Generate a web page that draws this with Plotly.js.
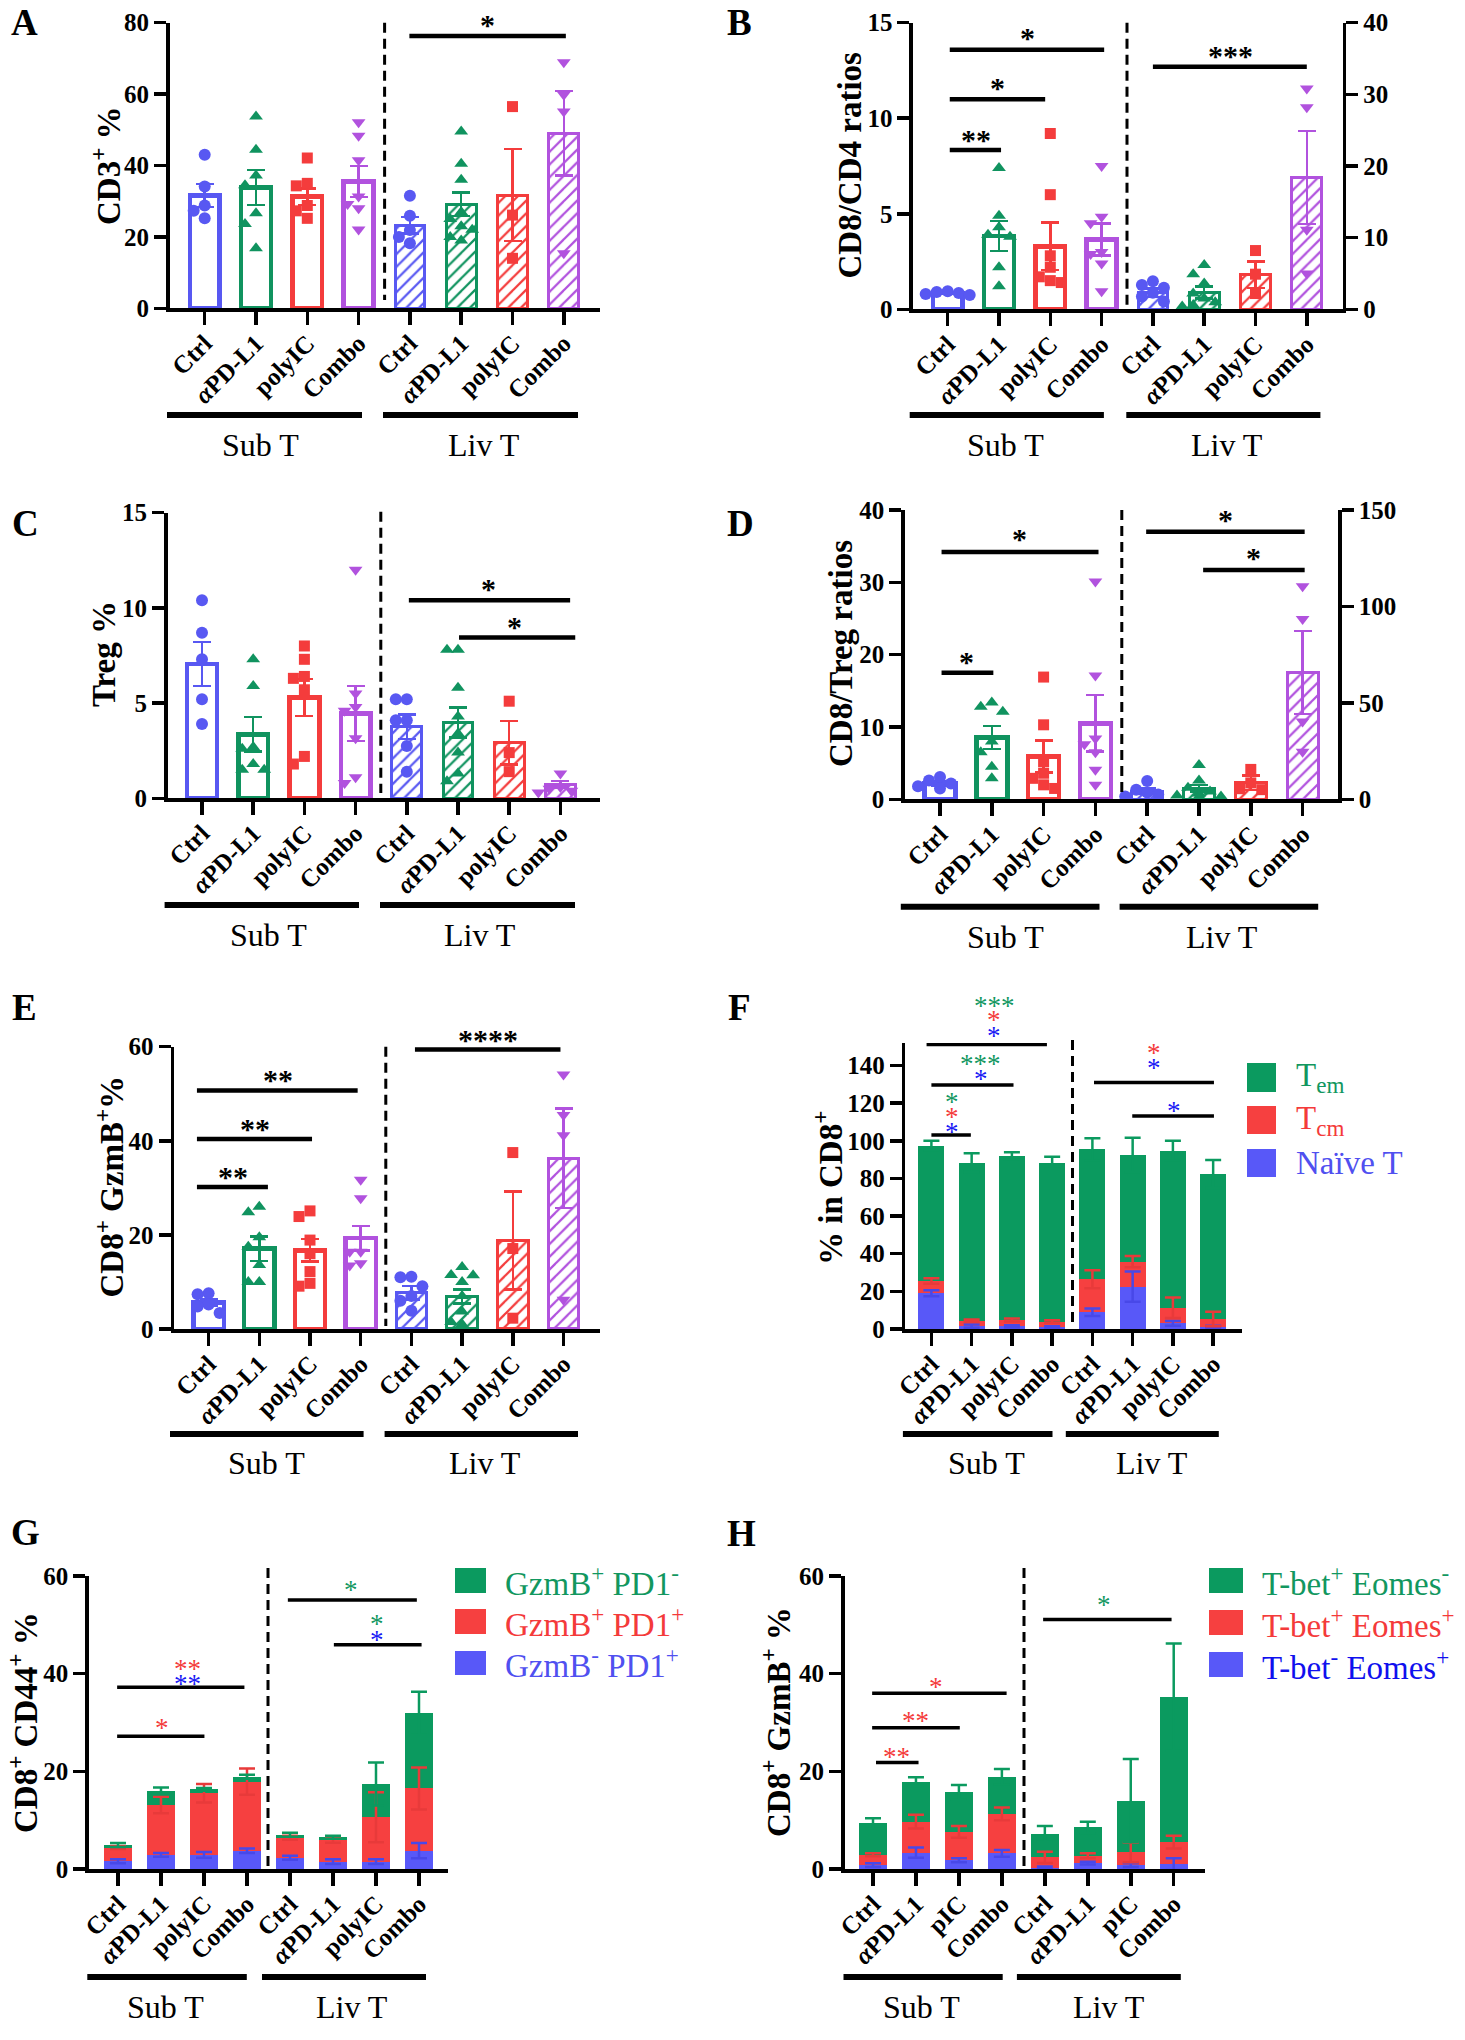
<!DOCTYPE html>
<html>
<head>
<meta charset="utf-8">
<script src="https://cdn.plot.ly/plotly-3.0.1.min.js"></script>
<style>
  body { margin: 0; background: white; }
  #grafico { width: 1465px; height: 2040px; }
</style>
</head>
<body>
<div id="grafico"></div>
<script>
const W = 1465, H = 2040;
const FUENTE = "'Liberation Serif', 'Times New Roman', serif";

// Categorías (Sub T: 0-3, Liv T: 4-7)
const grupos = ['Ctrl', '<i>α</i>PD-L1', 'polyIC', 'Combo', 'Ctrl', '<i>α</i>PD-L1', 'polyIC', 'Combo'];
const gruposH = ['Ctrl', '<i>α</i>PD-L1', 'pIC', 'Combo', 'Ctrl', '<i>α</i>PD-L1', 'pIC', 'Combo'];

// A: CD3+ %
const cd3Media = [31.6, 33.8, 31.3, 35.5, 23.3, 29.1, 31.7, 49.0];
const cd3Sem = [3.2, 4.9, 2.3, 4.3, 2.3, 3.3, 12.9, 11.8];
const cd3Puntos = [
    [43.0, 34.1, 28.8, 27.3, 25.2],
    [53.7, 44.4, 37.2, 34.5, 26.6, 23.6, 16.8],
    [42.1, 35.0, 34.3, 28.8, 27.3, 25.2],
    [52.1, 48.3, 41.5, 31.3, 29.2, 28.0, 22.1],
    [31.5, 25.9, 21.9, 20.0, 18.2],
    [49.5, 40.5, 36.0, 27.0, 25.0, 23.0, 22.0, 20.0, 19.0],
    [56.5, 26.1, 14.0],
    [68.9, 59.8, 55.1, 15.4]
];

// B: CD8/CD4 (Liv T en el eje derecho)
const cd8cd4Media = [0.84, 3.84, 3.3, 3.66, 2.33, 2.33, 4.8, 18.4];
const cd8cd4Sem = [0.05, 0.78, 1.24, 0.84, 0.6, 0.83, 1.85, 6.5];
const cd8cd4Puntos = [
    [0.95, 0.9, 0.85, 0.8, 0.75],
    [7.4, 4.9, 4.3, 3.9, 3.8, 2.2, 1.2],
    [9.2, 6.0, 2.8, 2.2, 1.7, 1.5, 1.4],
    [7.5, 4.85, 4.5, 3.0, 2.9, 2.4, 0.95],
    [3.9, 3.4, 3.0, 2.3, 1.8, 1.1],
    [6.2, 4.9, 3.6, 2.2, 1.5, 1.0, 0.6, 0.4],
    [8.2, 4.9, 2.2],
    [30.8, 28.2, 11.1, 5.0]
];

// C: Treg %
const tregMedia = [7.05, 3.36, 5.3, 4.46, 3.76, 3.99, 2.92, 0.73];
const tregSem = [1.15, 0.9, 0.97, 1.45, 0.64, 0.79, 1.14, 0.17];
const tregPuntos = [
    [10.4, 8.7, 7.3, 5.2, 3.9],
    [7.3, 5.9, 2.7, 2.6, 1.8, 1.5, 1.5],
    [8.0, 7.3, 6.4, 6.3, 5.7, 2.2, 1.8],
    [12.0, 5.5, 4.8, 4.6, 3.15, 1.1, 0.8],
    [5.2, 5.2, 4.1, 4.1, 2.75, 1.4],
    [7.8, 7.8, 5.8, 4.3, 3.4, 2.4, 1.3, 0.9],
    [5.1, 2.4, 1.4],
    [1.3, 0.6, 0.5, 0.4, 0.3]
];

// D: CD8/Treg (Liv T en el eje derecho)
const cd8tregMedia = [2.2, 8.57, 5.9, 10.5, 4.3, 5.7, 8.6, 65.7];
const cd8tregSem = [0.3, 1.6, 2.2, 3.9, 1.3, 1.7, 3.7, 21.5];
const cd8tregPuntos = [
    [3.1, 2.6, 2.2, 1.8, 1.5],
    [13.4, 12.8, 12.1, 8.0, 6.5, 4.5, 2.9],
    [16.9, 10.3, 5.2, 3.6, 2.9, 2.0, 1.5],
    [30.1, 17.1, 8.4, 7.6, 6.5, 4.1, 2.0],
    [9.5, 5.0, 3.5, 2.5, 1.5],
    [17.8, 9.7, 6.0, 4.0, 3.0, 2.0, 1.5, 1.5],
    [15.5, 8.5, 5.5, 5.0],
    [110.5, 93.5, 40.3, 24.7]
];

// E: CD8+ GzmB+ %
const gzmbMedia = [5.6, 17.1, 16.7, 19.3, 7.7, 6.9, 18.8, 36.3];
const gzmbSem = [0.7, 2.6, 2.4, 2.6, 1.4, 1.5, 10.4, 10.6];
const gzmbPuntos = [
    [7.6, 7.4, 5.2, 4.8, 3.4],
    [26.0, 24.8, 19.5, 17.5, 13.6, 10.0, 10.0],
    [25.1, 23.9, 18.9, 16.0, 12.2, 9.7, 9.1],
    [31.7, 27.8, 16.4, 16.4, 14.0, 13.5],
    [11.1, 11.0, 9.1, 7.0, 6.0, 3.9],
    [13.2, 11.5, 11.4, 10.0, 7.0, 3.7, 1.5, 1.0],
    [37.5, 17.1, 2.3],
    [54.1, 45.5, 41.2, 6.2]
];

// F: % en CD8+ (apilado)
const fNaive = [19.0, 1.5, 1.4, 0.8, 8.9, 22.5, 3.0, 1.2];
const fTcm = [6.5, 2.9, 3.4, 3.1, 17.5, 13.3, 8.3, 4.1];
const fTem = [72.0, 84.0, 87.2, 84.5, 69.1, 56.7, 83.5, 77.1];
const fNaiveSem = [1.6, 0.9, 0.6, 0.6, 2.0, 8.0, 1.3, 0.5];
const fTcmSem = [1.5, 0.7, 0.8, 0.7, 4.8, 3.0, 5.5, 3.9];
const fTemSem = [2.5, 5.0, 1.9, 3.2, 5.9, 9.2, 5.3, 7.4];

// G: CD8+ CD44+ % (apilado)
const gNeg = [1.6, 2.9, 2.9, 3.75, 2.3, 1.5, 1.5, 3.75];
const gDoble = [2.8, 10.2, 12.6, 14.15, 4.1, 4.4, 9.1, 12.75];
const gPos = [0.5, 2.9, 0.8, 1.0, 0.6, 0.6, 6.8, 15.4];
const gNegSem = [0.4, 0.4, 0.6, 0.45, 0.4, 0.5, 0.5, 1.55];
const gDobleSem = [0.3, 1.7, 1.9, 2.7, 0.4, 0.5, 5.1, 4.3];
const gPosSem = [0.4, 0.7, 0.3, 0.4, 0.4, 0.3, 4.4, 4.4];

// H: CD8+ GzmB+ % (apilado)
const hEomes = [0.8, 3.35, 1.8, 3.2, 0.3, 1.2, 0.8, 1.0];
const hDoble = [2.1, 6.35, 5.8, 8.1, 2.1, 1.5, 2.6, 4.5];
const hTbet = [6.45, 8.2, 8.1, 7.6, 4.8, 5.8, 10.6, 29.7];
const hEomesSem = [0.4, 1.05, 0.4, 0.7, 0.2, 0.3, 0.4, 1.2];
const hDobleSem = [0.3, 1.4, 1.2, 1.3, 1.15, 0.5, 2.0, 1.3];
const hTbetSem = [1.05, 0.9, 1.5, 1.6, 1.6, 1.2, 8.5, 11.0];

// Colores y símbolos
const colores = ['#5858f2', '#10935f', '#f43c3c', '#b152de'];
const simbolos = ['circle', 'triangle-up', 'square', 'triangle-down'];
const verde = '#0b9a5f', rojo = '#f64040', azul = '#5858f8';
const verdeTxt = '#12975f', rojoTxt = '#f43a3a', azulTxt = '#1818f5';

const data = [];
const layout = {
    width: W, height: H,
    margin: {l: 0, r: 0, t: 0, b: 0},
    paper_bgcolor: 'white', plot_bgcolor: 'rgba(0,0,0,0)',
    showlegend: false, barmode: 'stack',
    font: {family: FUENTE, color: 'black'},
    shapes: [], annotations: []
};

// Geometría de cada panel en píxeles de la página
const paneles = {
    A: {n: 1, yl: 169.5, xr: 600, yb: 308.3, yt: 22.7, c0: 204.7, sp: 51.3, ancho: 0.58, rango: [0, 80], dt: 20},
    B: {n: 2, yl: 912.9, xr: 1342.8, yb: 309.3, yt: 22.7, c0: 947.7, sp: 51.3, ancho: 0.58, rango: [0, 15], dt: 5, der: 9, rangoDer: [0, 40], dtDer: 10},
    C: {n: 3, yl: 167.6, xr: 600, yb: 798.3, yt: 512.7, c0: 202, sp: 51.2, ancho: 0.58, rango: [0, 15], dt: 5},
    D: {n: 4, yl: 904.8, xr: 1338.3, yb: 799.3, yt: 510, c0: 940, sp: 51.8, ancho: 0.6, rango: [0, 40], dt: 10, der: 10, rangoDer: [0, 150], dtDer: 50},
    E: {n: 5, yl: 174.1, xr: 600, yb: 1329, yt: 1046.7, c0: 208.6, sp: 50.7, ancho: 0.6, rango: [0, 60], dt: 20},
    F: {n: 6, yl: 905.3, xr: 1241.6, yb: 1329, yt: 1043, c0: 931.4, sp: 40.25, ancho: 0.65, rango: [0, 152], dt: 20},
    G: {n: 7, yl: 88.7, xr: 448.3, yb: 1869, yt: 1576, c0: 118, sp: 43, ancho: 0.66, rango: [0, 60], dt: 20},
    H: {n: 8, yl: 844.5, xr: 1204.6, yb: 1869, yt: 1576, c0: 873, sp: 42.96, ancho: 0.66, rango: [0, 60], dt: 20}
};

function ejeBase() {
    return {
        showline: true, linecolor: 'black', linewidth: 3.5,
        ticks: 'outside', tickcolor: 'black', tickwidth: 3.5, ticklen: 12,
        showgrid: false, zeroline: false, fixedrange: true,
        tickprefix: '<b>', ticksuffix: '</b>',
        tickfont: {family: FUENTE, size: 25, color: 'black', weight: 700}
    };
}

function montarEjes(p, etiquetas) {
    const sx = p.n === 1 ? '' : String(p.n);
    p.xref = 'x' + sx;
    p.yref = 'y' + sx;
    layout['xaxis' + sx] = Object.assign(ejeBase(), {
        domain: [p.yl / W, p.xr / W],
        range: [(p.yl - p.c0) / p.sp, (p.xr - p.c0) / p.sp],
        anchor: p.yref,
        tickvals: [0, 1, 2, 3, 4, 5, 6, 7], ticktext: etiquetas.map(t => '<b>' + t + '</b>'),
        tickprefix: '', ticksuffix: '',
        tickangle: -45, ticklen: 13, ticklabelstandoff: -6,
        tickfont: {family: FUENTE, size: 25, color: 'black', weight: 700}
    });
    layout['yaxis' + sx] = Object.assign(ejeBase(), {
        domain: [1 - p.yb / H, 1 - p.yt / H],
        range: p.rango, tick0: 0, dtick: p.dt, anchor: p.xref
    });
    if (p.n === 6) layout['yaxis' + sx].tickvals = [0, 20, 40, 60, 80, 100, 120, 140];
    if (p.der) {
        p.yrefDer = 'y' + p.der;
        layout['yaxis' + p.der] = Object.assign(ejeBase(), {
            overlaying: p.yref, side: 'right', anchor: p.xref,
            range: p.rangoDer, tick0: 0, dtick: p.dtDer
        });
    }
}

// Reparte los puntos que se solapan a los lados (sin azar)
function dispersar(vals, pxPorUnidad, paso) {
    const orden = vals.map((v, i) => i).sort((a, b) => vals[b] - vals[a]);
    const off = vals.map(() => 0);
    const usados = [];
    const huecos = [0, -1, 1, -2, 2];
    orden.forEach(i => {
        let s = huecos.find(h => usados.every(u => u.s !== h || Math.abs(u.v - vals[i]) * pxPorUnidad >= 11));
        if (s === undefined) s = 0;
        usados.push({s, v: vals[i]});
        off[i] = s * paso;
    });
    return off;
}

function panelPuntos(p, media, sem, puntos) {
    for (let i = 0; i < 8; i++) {
        const liv = i >= 4;
        const usaDer = liv && p.yrefDer;
        const yref = usaDer ? p.yrefDer : p.yref;
        const rango = usaDer ? p.rangoDer : p.rango;
        const color = colores[i % 4];
        const barra = {
            type: 'bar', x: [i], y: [media[i]], xaxis: p.xref, yaxis: yref, width: p.ancho,
            marker: {color: liv ? color : 'white', line: {color: color, width: liv ? 3 : 4.5}},
            error_y: {type: 'data', array: [sem[i]], color: color, thickness: 2.5, width: 9},
            hoverinfo: 'skip'
        };
        if (liv) barra.marker.pattern = {shape: '/', fgcolor: color, bgcolor: 'white', size: 9, solidity: 0.25};
        data.push(barra);
        const pxU = (p.yb - p.yt) / (rango[1] - rango[0]);
        const off = dispersar(puntos[i], pxU, 11 / p.sp);
        data.push({
            type: 'scatter', mode: 'markers', xaxis: p.xref, yaxis: yref,
            x: puntos[i].map((v, k) => i + off[k]), y: puntos[i],
            marker: {symbol: simbolos[i % 4], color: color, size: i % 4 === 2 ? 11 : 12},
            cliponaxis: false, hoverinfo: 'skip'
        });
    }
}

function panelApilado(p, segmentos, errores, cols, colsErr) {
    const idx = [0, 1, 2, 3, 4, 5, 6, 7];
    segmentos.forEach((s, j) => {
        data.push({type: 'bar', x: idx, y: s, xaxis: p.xref, yaxis: p.yref, width: p.ancho,
            marker: {color: cols[j], line: {width: 0}}, hoverinfo: 'skip'});
    });
    let acum = idx.map(() => 0);
    segmentos.forEach((s, j) => {
        acum = acum.map((a, k) => a + s[k]);
        data.push({type: 'scatter', mode: 'markers', x: idx, y: acum.slice(), xaxis: p.xref, yaxis: p.yref,
            marker: {size: 2, opacity: 0},
            error_y: {type: 'data', array: errores[j], color: colsErr[j], thickness: 2.5, width: 8},
            cliponaxis: false, hoverinfo: 'skip'});
    });
}

// Barras de significación: línea + asteriscos (los asteriscos se anclan a la línea
// y se suben con yshift para que no se oculten fuera del rango del eje)
function sig(p, yref, x0, x1, y, grosor, estrellas) {
    const pxU = (p.yb - p.yt) / (p.rango[1] - p.rango[0]);
    layout.shapes.push({type: 'line', xref: p.xref, yref: yref, x0: x0, x1: x1, y0: y, y1: y,
        line: {color: 'black', width: grosor}});
    estrellas.forEach(e => layout.annotations.push({
        xref: p.xref, yref: yref, x: e.x, y: y, text: e.t, showarrow: false,
        xanchor: 'center', yanchor: 'middle', yshift: (e.y - y) * pxU - 0.19 * e.s,
        font: {family: FUENTE, size: e.s, color: e.c || 'black', weight: e.b === false ? 400 : 700}
    }));
}

function texto(x, y, t, size, opts) {
    layout.annotations.push(Object.assign({
        xref: 'paper', yref: 'paper', x: x / W, y: 1 - y / H, text: t, showarrow: false,
        xanchor: 'center', yanchor: 'middle',
        font: {family: FUENTE, size: size, color: 'black', weight: 700}
    }, opts || {}));
}

function lineaPapel(x0, y0, x1, y1, grosor, dash) {
    layout.shapes.push({type: 'line', xref: 'paper', yref: 'paper',
        x0: x0 / W, x1: x1 / W, y0: 1 - y0 / H, y1: 1 - y1 / H,
        line: {color: 'black', width: grosor, dash: dash || 'solid'}});
}

function grupoInferior(yLinea, sub, liv, yTexto, xSub, xLiv) {
    lineaPapel(sub[0], yLinea, sub[1], yLinea, 6);
    lineaPapel(liv[0], yLinea, liv[1], yLinea, 6);
    const f = {family: FUENTE, size: 32, color: 'black', weight: 400};
    texto(xSub, yTexto, 'Sub T', 32, {font: f});
    texto(xLiv, yTexto, 'Liv T', 32, {font: f});
}

function cuadroLeyenda(x0, y0, x1, y1, color, t, colorTxt, xTxt) {
    layout.shapes.push({type: 'rect', xref: 'paper', yref: 'paper', x0: x0 / W, x1: x1 / W,
        y0: 1 - y0 / H, y1: 1 - y1 / H, fillcolor: color, line: {width: 0}});
    texto(xTxt, (y0 + y1) / 2, t, 33, {xanchor: 'left',
        font: {family: FUENTE, size: 33, color: colorTxt, weight: 400}});
}

// ---- Panel A ----
const pA = paneles.A;
montarEjes(pA, grupos);
panelPuntos(pA, cd3Media, cd3Sem, cd3Puntos);
sig(pA, pA.yref, 3.99, 7.04, 76.3, 4.5, [{x: 5.52, y: 81.2, t: '*', s: 30}]);

// ---- Panel B ----
const pB = paneles.B;
montarEjes(pB, grupos);
panelPuntos(pB, cd8cd4Media, cd8cd4Sem, cd8cd4Puntos);
sig(pB, pB.yref, 0.04, 1.04, 8.34, 4.5, [{x: 0.55, y: 9.2, t: '**', s: 30}]);
sig(pB, pB.yref, 0.04, 1.9, 11.0, 4.5, [{x: 0.97, y: 11.9, t: '*', s: 30}]);
sig(pB, pB.yref, 0.04, 3.05, 13.58, 4.5, [{x: 1.55, y: 14.5, t: '*', s: 30}]);
sig(pB, pB.yref, 4.0, 7.0, 12.7, 4.5, [{x: 5.51, y: 13.6, t: '***', s: 30}]);

// ---- Panel C ----
const pC = paneles.C;
montarEjes(pC, grupos);
panelPuntos(pC, tregMedia, tregSem, tregPuntos);
sig(pC, pC.yref, 4.04, 7.19, 10.4, 4.5, [{x: 5.6, y: 11.3, t: '*', s: 30}]);
sig(pC, pC.yref, 5.02, 7.29, 8.44, 4.5, [{x: 6.1, y: 9.3, t: '*', s: 30}]);

// ---- Panel D ----
const pD = paneles.D;
montarEjes(pD, grupos);
panelPuntos(pD, cd8tregMedia, cd8tregSem, cd8tregPuntos);
sig(pD, pD.yref, 0.03, 1.03, 17.5, 4.5, [{x: 0.51, y: 19.9, t: '*', s: 30}]);
sig(pD, pD.yref, 0.03, 3.06, 34.2, 4.5, [{x: 1.54, y: 36.8, t: '*', s: 30}]);
sig(pD, pD.yref, 3.98, 7.04, 37.0, 4.5, [{x: 5.52, y: 39.5, t: '*', s: 30}]);
sig(pD, pD.yref, 5.08, 7.04, 31.7, 4.5, [{x: 6.05, y: 34.2, t: '*', s: 30}]);

// ---- Panel E ----
const pE = paneles.E;
montarEjes(pE, grupos);
panelPuntos(pE, gzmbMedia, gzmbSem, gzmbPuntos);
sig(pE, pE.yref, -0.23, 1.17, 30.2, 4.5, [{x: 0.49, y: 33.6, t: '**', s: 30}]);
sig(pE, pE.yref, -0.23, 2.04, 40.4, 4.5, [{x: 0.91, y: 43.9, t: '**', s: 30}]);
sig(pE, pE.yref, -0.23, 2.94, 50.7, 4.5, [{x: 1.36, y: 54.3, t: '**', s: 30}]);
sig(pE, pE.yref, 4.07, 6.94, 59.4, 4.5, [{x: 5.51, y: 62.7, t: '****', s: 30}]);

// ---- Panel F ----
const pF = paneles.F;
montarEjes(pF, grupos);
panelApilado(pF, [fNaive, fTcm, fTem], [fNaiveSem, fTcmSem, fTemSem], [azul, rojo, verde], ['#4848e8', '#e83a3a', verde]);
sig(pF, pF.yref, 0, 0.98, 103.1, 3.5, [
    {x: 0.51, y: 123.5, t: '*', s: 27, c: verdeTxt, b: false},
    {x: 0.51, y: 115.5, t: '*', s: 27, c: rojoTxt, b: false},
    {x: 0.51, y: 107.6, t: '*', s: 27, c: azulTxt, b: false}]);
sig(pF, pF.yref, 0, 2.04, 129.7, 3.5, [
    {x: 1.22, y: 143.4, t: '***', s: 27, c: verdeTxt, b: false},
    {x: 1.22, y: 135.4, t: '*', s: 27, c: azulTxt, b: false}]);
sig(pF, pF.yref, -0.12, 2.87, 151.2, 3.5, [
    {x: 1.56, y: 174.5, t: '***', s: 27, c: verdeTxt, b: false},
    {x: 1.56, y: 167.0, t: '*', s: 27, c: rojoTxt, b: false},
    {x: 1.56, y: 158.6, t: '*', s: 27, c: azulTxt, b: false}]);
sig(pF, pF.yref, 4.04, 7.02, 131.0, 3.5, [
    {x: 5.53, y: 149.2, t: '*', s: 27, c: rojoTxt, b: false},
    {x: 5.53, y: 141.2, t: '*', s: 27, c: azulTxt, b: false}]);
sig(pF, pF.yref, 4.99, 7.02, 113.2, 3.5, [
    {x: 6.02, y: 118.5, t: '*', s: 27, c: azulTxt, b: false}]);
cuadroLeyenda(1247, 1063, 1276, 1092, verde, 'T<sub>em</sub>', verdeTxt, 1294);
cuadroLeyenda(1247, 1106, 1276, 1134, rojo, 'T<sub>cm</sub>', rojoTxt, 1294);
cuadroLeyenda(1247, 1149, 1276, 1177, azul, 'Naïve T', '#5050f0', 1294);

// ---- Panel G ----
const pG = paneles.G;
montarEjes(pG, grupos);
panelApilado(pG, [gNeg, gDoble, gPos], [gNegSem, gDobleSem, gPosSem], [azul, rojo, verde], ['#4848e8', '#e83a3a', verde]);
sig(pG, pG.yref, -0.02, 2.01, 27.2, 3.5, [{x: 1.02, y: 30.0, t: '*', s: 27, c: rojoTxt, b: false}]);
sig(pG, pG.yref, -0.02, 2.94, 37.2, 3.5, [
    {x: 1.61, y: 42.1, t: '**', s: 27, c: rojoTxt, b: false},
    {x: 1.61, y: 38.9, t: '**', s: 27, c: azulTxt, b: false}]);
sig(pG, pG.yref, 3.95, 6.95, 55.1, 3.5, [{x: 5.43, y: 58.2, t: '*', s: 27, c: verdeTxt, b: false}]);
sig(pG, pG.yref, 5.02, 7.06, 45.9, 3.5, [
    {x: 6.02, y: 51.3, t: '*', s: 27, c: verdeTxt, b: false},
    {x: 6.02, y: 48.0, t: '*', s: 27, c: azulTxt, b: false}]);
cuadroLeyenda(455, 1568, 486, 1593, verde, 'GzmB<sup>+</sup> PD1<sup>-</sup>', verdeTxt, 503);
cuadroLeyenda(455, 1609, 486, 1634, rojo, 'GzmB<sup>+</sup> PD1<sup>+</sup>', rojoTxt, 503);
cuadroLeyenda(455, 1651, 486, 1675, azul, 'GzmB<sup>-</sup> PD1<sup>+</sup>', '#5050f0', 503);

// ---- Panel H ----
const pH = paneles.H;
montarEjes(pH, gruposH);
panelApilado(pH, [hEomes, hDoble, hTbet], [hEomesSem, hDobleSem, hTbetSem], [azul, rojo, verde], ['#4848e8', '#e83a3a', verde]);
sig(pH, pH.yref, 0.07, 1.06, 21.8, 3.5, [{x: 0.55, y: 24.0, t: '**', s: 27, c: rojoTxt, b: false}]);
sig(pH, pH.yref, -0.02, 2.02, 28.9, 3.5, [{x: 1.0, y: 31.3, t: '**', s: 27, c: rojoTxt, b: false}]);
sig(pH, pH.yref, -0.02, 3.11, 36.0, 3.5, [{x: 1.47, y: 38.4, t: '*', s: 27, c: rojoTxt, b: false}]);
sig(pH, pH.yref, 3.96, 6.95, 51.1, 3.5, [{x: 5.38, y: 55.2, t: '*', s: 27, c: verdeTxt, b: false}]);
cuadroLeyenda(1209, 1568, 1243, 1593, verde, 'T-bet<sup>+</sup> Eomes<sup>-</sup>', verdeTxt, 1260);
cuadroLeyenda(1209, 1610, 1243, 1635, rojo, 'T-bet<sup>+</sup> Eomes<sup>+</sup>', rojoTxt, 1260);
cuadroLeyenda(1209, 1652, 1243, 1677, azul, 'T-bet<sup>-</sup> Eomes<sup>+</sup>', '#1010ee', 1260);

// Líneas discontinuas entre Sub T y Liv T
[[384.6, 22.7, 300], [1127, 22.7, 305], [380.8, 511.7, 793], [1121.8, 510, 798],
 [385.8, 1046.7, 1326], [1072.5, 1040, 1328], [268, 1568, 1868], [1024, 1568, 1868]]
    .forEach(d => lineaPapel(d[0], d[1], d[0], d[2], 3, '10px,6px'));

// Barras de grupo y etiquetas Sub T / Liv T
grupoInferior(415, [167, 362], [383, 578], 445, 260, 484);
grupoInferior(415, [909.7, 1103.9], [1126.3, 1320.4], 445, 1005.7, 1226.7);
grupoInferior(905, [164.6, 359], [380, 575], 935, 268, 480);
grupoInferior(906.7, [900.8, 1099.5], [1119.6, 1318.2], 936.7, 1005.7, 1222);
grupoInferior(1434, [170, 363.6], [384.6, 578], 1463, 266, 485);
grupoInferior(1434, [902.9, 1052.5], [1065.8, 1218.8], 1463, 986, 1152);
grupoInferior(1977, [87.3, 246.8], [262, 426], 2007, 165, 351.6);
grupoInferior(1977, [843.5, 1002.7], [1016.9, 1180.8], 2007, 921.9, 1108.6);

// Títulos de los ejes Y
const rot = {textangle: -90};
texto(106, 166, '<b>CD3<sup>+</sup> %</b>', 33, rot);
texto(849.5, 165, '<b>CD8/CD4 ratios</b>', 33, rot);
texto(104, 654, '<b>Treg %</b>', 33, rot);
texto(840.5, 653.5, '<b>CD8/Treg ratios</b>', 33, rot);
texto(109, 1186.5, '<b>CD8<sup>+</sup> GzmB<sup>+</sup>%</b>', 33, rot);
texto(828, 1188, '<b>% in CD8<sup>+</sup></b>', 33, rot);
texto(23, 1723, '<b>CD8<sup>+</sup> CD44<sup>+</sup> %</b>', 33, rot);
texto(776, 1722, '<b>CD8<sup>+</sup> GzmB<sup>+</sup> %</b>', 33, rot);

// Letras de los paneles
[['A', 24, 23], ['B', 739, 23], ['C', 25, 523], ['D', 740, 523],
 ['E', 24, 1007], ['F', 739, 1007], ['G', 25, 1532], ['H', 741, 1533]]
    .forEach(l => texto(l[1], l[2], '<b>' + l[0] + '</b>', 37));

Plotly.newPlot('grafico', data, layout, {displayModeBar: false, staticPlot: true});
</script>
</body>
</html>
